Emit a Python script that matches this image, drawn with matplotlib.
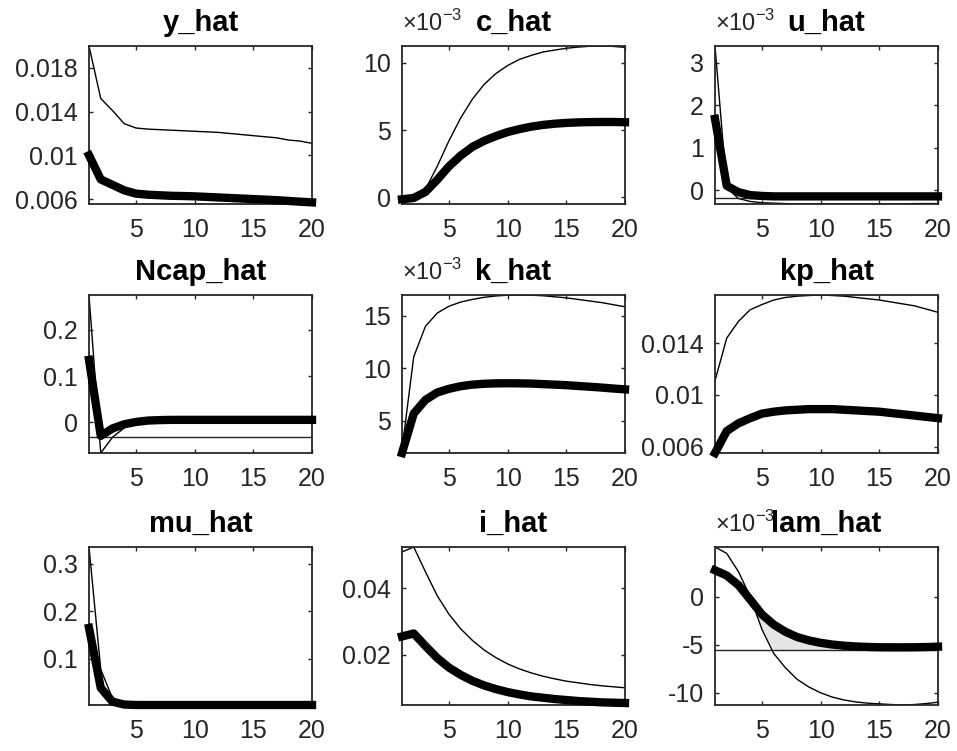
import matplotlib
matplotlib.use('Agg')
import matplotlib.pyplot as plt
import numpy as np

plt.rcParams['font.family'] = ['Liberation Sans', 'DejaVu Sans']
plt.rcParams['axes.unicode_minus'] = False
plt.rcParams['mathtext.fontset'] = 'custom'
plt.rcParams['mathtext.rm'] = 'Liberation Sans'

periods = np.arange(1, 21)

# impulse responses (thin = larger shock, thick = baseline); x10^-3 panels stored in units of 1e-3
y_hat_thin = [0.0200, 0.0152, 0.0141, 0.0129, 0.0125, 0.0124, 0.01235, 0.0123, 0.01225, 0.0122,
              0.01215, 0.0121, 0.0120, 0.0119, 0.0118, 0.0117, 0.0116, 0.0114, 0.0113, 0.0111]
y_hat_thick = [0.0100, 0.0078, 0.0073, 0.0068, 0.0065, 0.0064, 0.00635, 0.0063, 0.00628, 0.00625,
               0.0062, 0.00615, 0.0061, 0.00605, 0.0060, 0.00595, 0.0059, 0.00583, 0.00576, 0.0057]
c_hat_thin = [-0.3, -0.15, 0.6, 2.3, 4.2, 5.9, 7.3, 8.4, 9.2, 9.8,
              10.25, 10.55, 10.8, 10.95, 11.08, 11.17, 11.23, 11.25, 11.22, 11.15]
c_hat_thick = [-0.15, -0.05, 0.4, 1.3, 2.3, 3.1, 3.75, 4.2, 4.55, 4.85,
               5.07, 5.25, 5.38, 5.47, 5.53, 5.57, 5.59, 5.6, 5.6, 5.58]
u_hat_thin = [3.4, 0.05, -0.2, -0.27, -0.3, -0.31, -0.32, -0.33, -0.33, -0.33,
              -0.33, -0.33, -0.33, -0.33, -0.33, -0.33, -0.33, -0.32, -0.32, -0.32]
u_hat_thick = [1.68, 0.1, -0.05, -0.12, -0.14, -0.15, -0.15, -0.15, -0.15, -0.15,
               -0.15, -0.15, -0.15, -0.15, -0.15, -0.15, -0.15, -0.15, -0.15, -0.15]
ncap_thin = [0.275, -0.066, -0.032, -0.012, 0.001, 0.007, 0.009, 0.010, 0.011, 0.011,
             0.011, 0.011, 0.011, 0.011, 0.011, 0.011, 0.011, 0.011, 0.011, 0.011]
ncap_thick = [0.135, -0.029, -0.013, -0.004, 0.001, 0.004, 0.005, 0.0055, 0.0055, 0.0055,
              0.0055, 0.0055, 0.0055, 0.0055, 0.0055, 0.0055, 0.0055, 0.0055, 0.0055, 0.0055]
k_hat_thin = [2.3, 11.1, 14.0, 15.25, 15.9, 16.3, 16.55, 16.75, 16.88, 16.95,
              16.97, 16.95, 16.9, 16.8, 16.7, 16.55, 16.4, 16.25, 16.05, 15.85]
k_hat_thick = [1.95, 5.7, 7.0, 7.7, 8.05, 8.3, 8.45, 8.53, 8.57, 8.58,
               8.57, 8.55, 8.5, 8.45, 8.4, 8.32, 8.25, 8.17, 8.08, 8.0]
kp_hat_thin = [0.0111, 0.0144, 0.0157, 0.0166, 0.0170, 0.01735, 0.01755, 0.01765, 0.0177, 0.01774,
               0.0177, 0.01765, 0.01755, 0.01745, 0.01735, 0.0172, 0.01705, 0.0169, 0.01665, 0.0164]
kp_hat_thick = [0.0055, 0.0072, 0.0078, 0.0082, 0.00855, 0.0087, 0.0088, 0.00885, 0.0089, 0.0089,
                0.0089, 0.00885, 0.0088, 0.00875, 0.0087, 0.0086, 0.0085, 0.0084, 0.0083, 0.0082]
mu_hat_thin = [0.335, 0.078, 0.017, 0.006, 0.004, 0.004, 0.004, 0.004, 0.004, 0.004,
               0.004, 0.004, 0.004, 0.004, 0.004, 0.004, 0.004, 0.004, 0.004, 0.004]
mu_hat_thick = [0.165, 0.039, 0.010, 0.004, 0.003, 0.003, 0.003, 0.003, 0.003, 0.003,
                0.003, 0.003, 0.003, 0.003, 0.003, 0.003, 0.003, 0.003, 0.003, 0.003]
i_hat_thin = [0.0510, 0.0525, 0.0450, 0.0378, 0.0322, 0.0278, 0.0243, 0.0214, 0.0191, 0.0172,
              0.0157, 0.0145, 0.0135, 0.0127, 0.0120, 0.0115, 0.0110, 0.0106, 0.0103, 0.0100]
i_hat_thick = [0.0255, 0.0264, 0.0226, 0.0190, 0.0161, 0.0139, 0.0121, 0.0107, 0.0096, 0.0087,
               0.0080, 0.0074, 0.0070, 0.0066, 0.0063, 0.0060, 0.0058, 0.0056, 0.0055, 0.0054]
lam_hat_thin = [5.17, 4.5, 2.6, 0.0, -3.4, -5.9, -7.4, -8.6, -9.4, -10.0,
                -10.45, -10.75, -10.95, -11.08, -11.15, -11.22, -11.27, -11.22, -11.12, -10.98]
lam_hat_thick = [2.75, 2.2, 1.2, -0.3, -1.85, -2.9, -3.65, -4.2, -4.55, -4.8,
                 -4.98, -5.1, -5.18, -5.23, -5.26, -5.27, -5.27, -5.26, -5.24, -5.2]

titles = ['y_hat', 'c_hat', 'u_hat', 'Ncap_hat', 'k_hat', 'kp_hat', 'mu_hat', 'i_hat', 'lam_hat']
thin_series = [y_hat_thin, c_hat_thin, u_hat_thin, ncap_thin, k_hat_thin, kp_hat_thin,
               mu_hat_thin, i_hat_thin, lam_hat_thin]
thick_series = [y_hat_thick, c_hat_thick, u_hat_thick, ncap_thick, k_hat_thick, kp_hat_thick,
                mu_hat_thick, i_hat_thick, lam_hat_thick]
ref_lines = [0.00555, -0.5, -0.2, -0.032, 1.95, 0.0055, 0.003, 0.0048, -5.58]
y_ticks = [[0.006, 0.01, 0.014, 0.018], [0, 5, 10], [0, 1, 2, 3],
           [0, 0.1, 0.2], [5, 10, 15], [0.006, 0.01, 0.014],
           [0.1, 0.2, 0.3], [0.02, 0.04], [-10, -5, 0]]
scaled = ['c_hat', 'u_hat', 'k_hat', 'lam_hat']

W, H = 957, 751
fig = plt.figure(figsize=(W / 100, H / 100), dpi=100)
col_left = [89, 402, 715]
row_top = [46, 295, 547]
axw, axh = 223, 158
axcol = '#262626'

for k, name in enumerate(titles):
    r, c = divmod(k, 3)
    ax = fig.add_axes([col_left[c] / W, 1 - (row_top[r] + axh) / H, axw / W, axh / H])
    thin = np.array(thin_series[k])
    thick = np.array(thick_series[k])
    base = np.full(len(periods), ref_lines[k])
    if name == 'lam_hat':
        low = np.maximum(thin, base)
        ax.fill_between(periods, thick, low, where=thick > low, interpolate=True,
                        color='#e6e6e6', lw=0, zorder=1)
    ax.plot(periods, thin, color='k', lw=1.0, zorder=2)
    ax.plot(periods, base, color=axcol, lw=1.0, zorder=2)
    ax.plot(periods, thick, color='k', lw=6, zorder=3, clip_on=False)
    allv = np.concatenate([thin, thick, base])
    ax.set_xlim(1, 20)
    ax.set_ylim(allv.min(), allv.max())
    ax.set_xticks([5, 10, 15, 20])
    ax.set_yticks(y_ticks[k])
    ax.set_yticklabels(['%g' % v for v in y_ticks[k]])
    ax.tick_params(direction='in', length=3, width=1, colors=axcol, labelsize=18,
                   top=True, right=True)
    ax.tick_params(axis='x', pad=10)
    ax.tick_params(axis='y', pad=8)
    for s in ax.spines.values():
        s.set_linewidth(1.3)
        s.set_color(axcol)
    ax.set_title(name, fontsize=21, fontweight='bold', pad=11)
    if name in scaled:
        ax.annotate(r'$\times10^{-3}$', xy=(0, 1), xycoords='axes fraction',
                    xytext=(0, 11), textcoords='offset points', ha='left', va='baseline',
                    fontsize=17, color=axcol)

fig.savefig('out.png', dpi=100)
